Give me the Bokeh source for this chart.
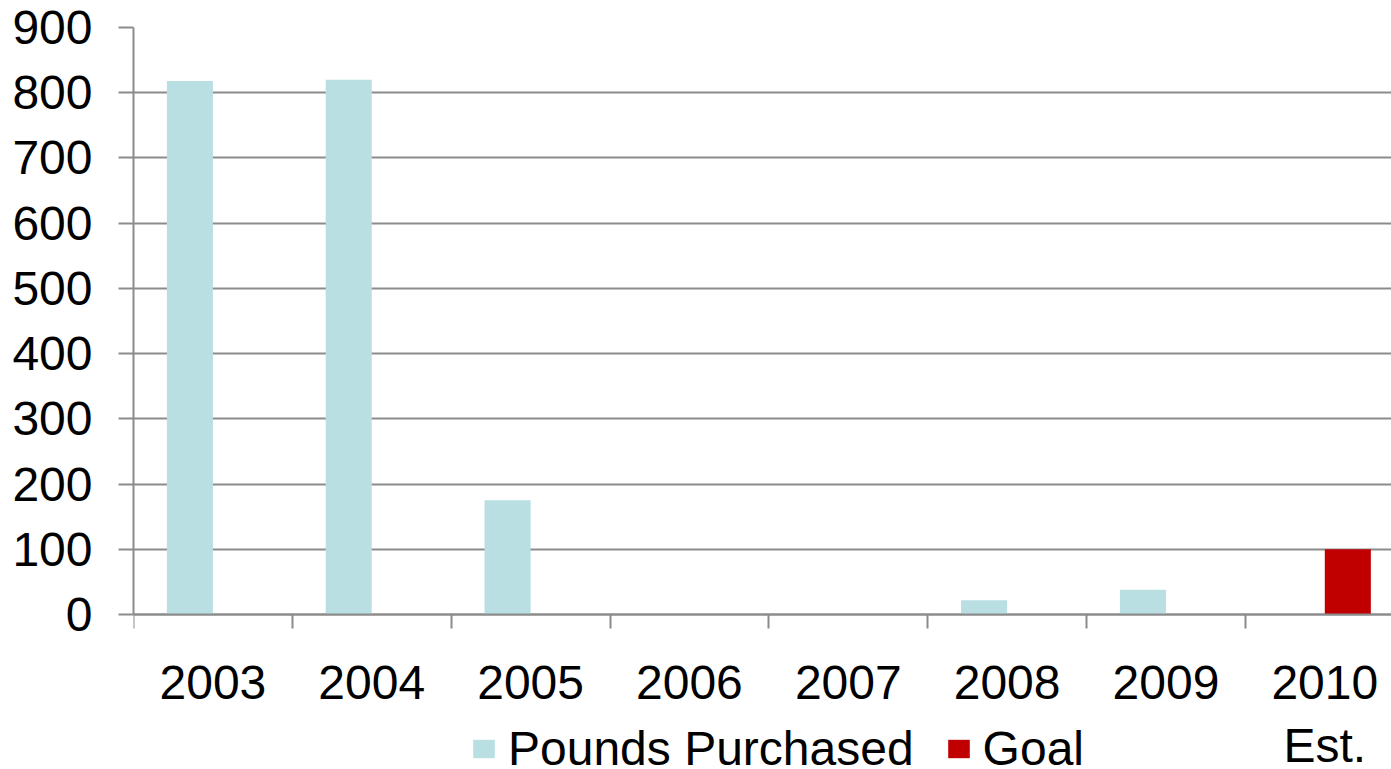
from bokeh.plotting import figure
from bokeh.models import Range1d, FixedTicker, Legend, LegendItem, ColumnDataSource
from bokeh.embed import file_html
from bokeh.resources import INLINE

categories = ["2003", "2004", "2005", "2006", "2007", "2008", "2009", "2010\nEst."]
pounds_purchased = [818, 820, 175, 0, 0, 22, 38, 0]
goal = [0, 0, 0, 0, 0, 0, 0, 100]
y_ticks = [0, 100, 200, 300, 400, 500, 600, 700, 800, 900]

FONT = "Liberation Sans"
GRAY = "#8c8c8c"
TEAL = "#b9dfe2"
RED = "#c00000"
FS = "48px"

# layout (pixels): plot area top 27, value 0 at 614, page bottom 768
TOP, ZERO, BOTTOM = 27, 614, 768
y_max = y_ticks[-1]
y_min = -y_max * (BOTTOM - ZERO) / (ZERO - TOP)

n = len(categories)
centers = [i + 0.5 for i in range(n)]
bounds = [i for i in range(n + 1)]
bw = 0.29

src = ColumnDataSource(dict(
    xp=[c - bw / 2 for c in centers],
    xg=[c + bw / 2 for c in centers],
    pounds=pounds_purchased,
    goal=goal,
))

p = figure(frame_width=1258, frame_height=BOTTOM - TOP,
           x_range=Range1d(0, 7.92), y_range=Range1d(y_min, y_max),
           output_backend="svg", toolbar_location=None,
           min_border_left=133, min_border_top=TOP, min_border_right=0, min_border_bottom=0)
p.outline_line_color = None

r1 = p.vbar(x="xp", top="pounds", width=bw, source=src, fill_color=TEAL, line_color=None)
r2 = p.vbar(x="xg", top="goal", width=bw, source=src, fill_color=RED, line_color=None)

p.xgrid.visible = False
p.ygrid.ticker = FixedTicker(ticks=y_ticks)
p.ygrid.grid_line_color = GRAY
p.ygrid.grid_line_width = 2
p.ygrid.level = "underlay"

ya = p.yaxis[0]
ya.ticker = FixedTicker(ticks=y_ticks)
ya.bounds = (0, y_max)
ya.axis_line_color = GRAY
ya.axis_line_width = 2
ya.major_tick_line_color = GRAY
ya.major_tick_line_width = 2
ya.major_tick_out = 15
ya.major_tick_in = 0
ya.minor_tick_line_color = None
ya.major_label_text_font = FONT
ya.major_label_text_font_size = FS
ya.major_label_text_color = "black"
ya.major_label_standoff = 26

xa = p.xaxis[0]
xa.fixed_location = 0
xa.ticker = FixedTicker(ticks=centers, minor_ticks=bounds)
xa.major_label_overrides = {c: lab for c, lab in zip(centers, categories)}
xa.axis_line_color = GRAY
xa.axis_line_width = 2
xa.major_tick_line_color = None
xa.major_tick_out = 0
xa.major_tick_in = 0
xa.minor_tick_line_color = GRAY
xa.minor_tick_line_width = 2
xa.minor_tick_out = 14
xa.minor_tick_in = 0
xa.major_label_text_font = FONT
xa.major_label_text_font_size = FS
xa.major_label_text_color = "black"
xa.major_label_standoff = 27

legend = Legend(items=[LegendItem(label="Pounds Purchased", renderers=[r1]),
                       LegendItem(label="Goal", renderers=[r2])],
                orientation="horizontal", location=(337, -8),
                label_text_font=FONT, label_text_font_size=FS, label_text_color="black",
                glyph_width=27, glyph_height=23, label_standoff=11, spacing=31,
                padding=0, margin=0, border_line_color=None, background_fill_alpha=0)
p.add_layout(legend, "center")

open("out.html", "w").write(file_html(p, INLINE))
